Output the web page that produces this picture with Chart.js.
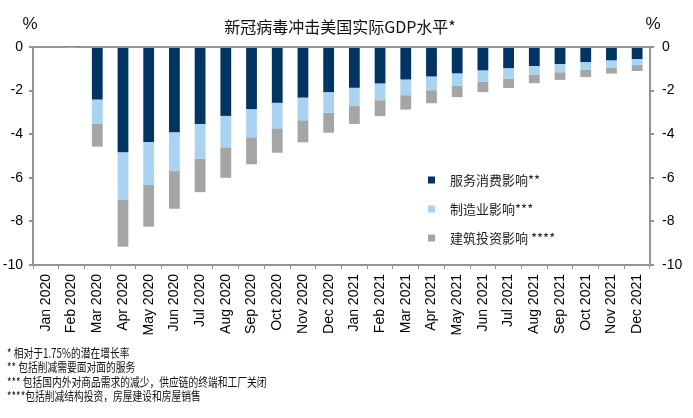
<html><head>
<title>新冠病毒冲击美国实际GDP水平</title>
<style>
  body {
    margin: 0;
    background: #fff;
  }
  .wrap {
    position: relative;
    width: 693px;
    height: 418px;
  }
  #gdpChart {
    position: absolute;
    left: 0;
    top: 0;
  }
  .notes {
    position: absolute;
    left: 7px;
    top: 346px;
    font-family: 'Noto Sans CJK SC', sans-serif;
    font-size: 12.5px;
    line-height: 14.3px;
    color: #111;
    transform: scaleX(0.78);
    transform-origin: left top;
    white-space: nowrap;
  }
</style>
<script src="https://cdn.jsdelivr.net/npm/chart.js"></script>
</head>
<body>
<div class="wrap">
  <canvas id="gdpChart" width="693" height="418"></canvas>
  <div class="notes">
    <div>* 相对于1.75%的潜在增长率</div>
    <div>** 包括削减需要面对面的服务</div>
    <div>*** 包括国内外对商品需求的减少，供应链的终端和工厂关闭</div>
    <div>****包括削减结构投资，房屋建设和房屋销售</div>
  </div>
</div>

<script>
// data (% of GDP level)
const months = ['Jan 2020', 'Feb 2020', 'Mar 2020', 'Apr 2020', 'May 2020', 'Jun 2020',
  'Jul 2020', 'Aug 2020', 'Sep 2020', 'Oct 2020', 'Nov 2020', 'Dec 2020',
  'Jan 2021', 'Feb 2021', 'Mar 2021', 'Apr 2021', 'May 2021', 'Jun 2021',
  'Jul 2021', 'Aug 2021', 'Sep 2021', 'Oct 2021', 'Nov 2021', 'Dec 2021'];

const services = [0, 0, -2.41, -4.83, -4.36, -3.91, -3.53, -3.16, -2.85, -2.56, -2.32, -2.07,
  -1.87, -1.67, -1.49, -1.35, -1.21, -1.07, -0.97, -0.87, -0.78, -0.69, -0.61, -0.55];
const manufacturing = [0, -0.03, -1.10, -2.19, -1.97, -1.78, -1.59, -1.44, -1.29, -1.17, -1.04, -0.95,
  -0.84, -0.77, -0.72, -0.63, -0.57, -0.52, -0.48, -0.41, -0.38, -0.35, -0.34, -0.28];
const construction = [0, 0, -1.06, -2.14, -1.91, -1.73, -1.54, -1.40, -1.24, -1.12, -1.01, -0.91,
  -0.82, -0.73, -0.66, -0.60, -0.52, -0.48, -0.43, -0.38, -0.35, -0.34, -0.27, -0.27];

const yTicks = [0, -2, -4, -6, -8, -10];

const seriesNames = ['服务消费影响**', '制造业影响***', '建筑投资影响 ****'];
const seriesColors = ['#003462', '#a9d3f1', '#a5a5a5'];

const axisGrey = '#939393';
const tickFont = { family: "'Liberation Sans', Arial, sans-serif", size: 14 };

// title, % marks and legend drawn on top
const decorPlugin = {
  id: 'decor',
  afterDraw(chart) {
    const ctx = chart.ctx;
    ctx.save();
    ctx.fillStyle = '#111';
    ctx.textBaseline = 'middle';
    ctx.font = "16px 'Noto Sans CJK SC', sans-serif";
    ctx.textAlign = 'center';
    ctx.fillText('新冠病毒冲击美国实际GDP水平*', 340, 27);
    ctx.font = "17px 'Liberation Sans', Arial, sans-serif";
    ctx.fillText('%', 30, 24);
    ctx.fillText('%', 653, 24);

    // legend
    ctx.textAlign = 'left';
    ctx.font = "13px 'Noto Sans CJK SC', sans-serif";
    const rows = [180, 209, 238];
    chart.data.datasets.forEach((ds, i) => {
      ctx.fillStyle = ds.backgroundColor;
      ctx.fillRect(428, rows[i] - 3.5, 7, 7);
      ctx.fillStyle = '#222';
      ctx.fillText(ds.label, 450, rows[i]);
    });
    ctx.restore();
  }
};

const yAxis = (pos) => ({
  type: 'linear',
  position: pos,
  stacked: pos === 'left',
  min: -10,
  max: 0,
  afterBuildTicks: (scale) => { scale.ticks = yTicks.map(v => ({ value: v })); },
  afterFit: (scale) => { scale.width = pos === 'left' ? 33 : 43; },
  ticks: { font: tickFont, color: '#000', padding: pos === 'left' ? 6 : 8 },
  border: { color: axisGrey, width: 2 },
  grid: {
    drawOnChartArea: pos === 'left',
    color: (c) => (c.tick && c.tick.value === 0 ? axisGrey : 'rgba(0,0,0,0)'),
    lineWidth: 2,
    tickColor: axisGrey,
    tickLength: 4
  }
});

new Chart(document.getElementById('gdpChart'), {
  type: 'bar',
  data: {
    labels: months,
    datasets: [
      { label: seriesNames[0], data: services, backgroundColor: seriesColors[0] },
      { label: seriesNames[1], data: manufacturing, backgroundColor: seriesColors[1] },
      { label: seriesNames[2], data: construction, backgroundColor: seriesColors[2] }
    ]
  },
  options: {
    responsive: false,
    animation: false,
    layout: { padding: { top: 47, left: 0, right: 0, bottom: 0 } },
    datasets: { bar: { categoryPercentage: 1, barPercentage: 0.42 } },
    plugins: { legend: { display: false }, tooltip: { enabled: false } },
    scales: {
      x: {
        stacked: true,
        afterFit: (scale) => { scale.height = 153; },
        ticks: { font: tickFont, color: '#000', minRotation: 90, maxRotation: 90, padding: 5 },
        border: { color: axisGrey, width: 2 },
        grid: { offset: true, drawOnChartArea: false, color: axisGrey, tickLength: 4 }
      },
      y: yAxis('left'),
      y2: yAxis('right')
    }
  },
  plugins: [decorPlugin]
});
</script>
</body></html>
